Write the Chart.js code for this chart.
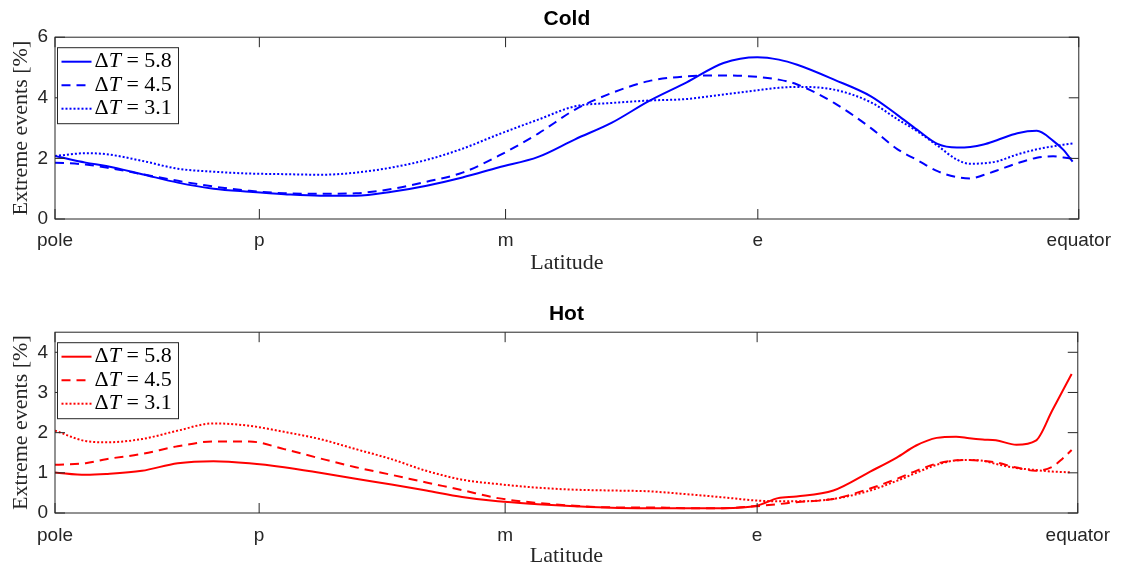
<!DOCTYPE html>
<html>
<head>
<meta charset="utf-8">
<script src="https://cdn.jsdelivr.net/npm/chart.js@4.4.1/dist/chart.umd.min.js"></script>
<style>
  html, body { margin: 0; padding: 0; background: #fff; }
  .panel { position: absolute; left: 0; width: 1121px; }
  #top { top: 0; height: 284px; }
  #bot { top: 284px; height: 285px; }
</style>
</head>
<body>
<div class="panel" id="top"><canvas id="cold"></canvas></div>
<div class="panel" id="bot"><canvas id="hot"></canvas></div>
<script>
// latitude axis runs 0 (pole) .. 100 (equator)
const lat = [0, 3, 5, 8.5, 12, 15.5, 19, 22.4, 25.9, 29.4, 32.9, 36.3, 39.8, 43.3,
  47.2, 50.8, 54.4, 58, 61.7, 65.3, 68.6, 70.7, 72.5, 76.1, 79.7, 82.3, 84.2, 86.2,
  88.1, 89.4, 90.7, 92, 94, 95.9, 97.5, 98.5, 99.4];
const tickPos = [0, 19.96, 44.01, 68.65, 100];
const tickLabels = ['pole', 'p', 'm', 'e', 'equator'];
const seriesLabels = ['\u0394T = 5.8', '\u0394T = 4.5', '\u0394T = 3.1'];

// Cold
const cold58 = [2.08, 1.86, 1.75, 1.48, 1.2, 1.0, 0.9, 0.82, 0.77, 0.77, 0.9, 1.1, 1.37, 1.7,
  2.05, 2.63, 3.18, 3.89, 4.51, 5.15, 5.34, 5.26, 5.09, 4.6, 4.05, 3.43, 2.95, 2.48,
  2.36, 2.38, 2.46, 2.6, 2.83, 2.91, 2.58, 2.28, 1.89];
const cold45 = [1.86, 1.8, 1.7, 1.48, 1.26, 1.07, 0.93, 0.85, 0.83, 0.85, 0.99, 1.23, 1.53, 2.08,
  2.82, 3.61, 4.16, 4.55, 4.71, 4.74, 4.69, 4.6, 4.44, 3.83, 3.0, 2.3, 1.95, 1.58,
  1.38, 1.34, 1.45, 1.6, 1.84, 2.02, 2.07, 2.03, 1.99];
const cold31 = [2.08, 2.17, 2.14, 1.92, 1.66, 1.56, 1.5, 1.48, 1.46, 1.53, 1.7, 1.95, 2.32, 2.79,
  3.28, 3.72, 3.83, 3.91, 3.96, 4.11, 4.25, 4.33, 4.36, 4.27, 3.85, 3.29, 2.9, 2.42,
  1.96, 1.82, 1.84, 1.9, 2.13, 2.3, 2.4, 2.45, 2.49];

// Hot
const hot58 = [1.01, 0.95, 0.97, 1.05, 1.24, 1.29, 1.24, 1.14, 1.0, 0.85, 0.71, 0.56, 0.4, 0.29,
  0.22, 0.17, 0.13, 0.12, 0.12, 0.12, 0.18, 0.37, 0.41, 0.56, 1.03, 1.38, 1.68, 1.87,
  1.9, 1.86, 1.83, 1.81, 1.7, 1.8, 2.55, 3.03, 3.46];
const hot45 = [1.2, 1.24, 1.34, 1.47, 1.66, 1.78, 1.78, 1.59, 1.36, 1.14, 0.95, 0.76, 0.57, 0.37,
  0.25, 0.18, 0.14, 0.14, 0.12, 0.12, 0.17, 0.22, 0.27, 0.35, 0.61, 0.85, 1.05, 1.23,
  1.31, 1.32, 1.3, 1.26, 1.13, 1.05, 1.15, 1.35, 1.57];
const hot31 = [2.05, 1.79, 1.76, 1.84, 2.05, 2.23, 2.17, 2.02, 1.84, 1.59, 1.34, 1.05, 0.83, 0.72,
  0.63, 0.58, 0.56, 0.54, 0.47, 0.39, 0.31, 0.29, 0.29, 0.35, 0.56, 0.8, 1.0, 1.2,
  1.31, 1.32, 1.3, 1.22, 1.12, 1.07, 1.03, 1.02, 1.01];

const axisColor = '#262626';
const dashes = [[], [9, 6], [2, 2]];

// MATLAB-style box with inward ticks
const boxPlugin = {
  id: 'matlabBox',
  afterDatasetsDraw(chart) {
    const { ctx, chartArea: a, scales: { x, y } } = chart;
    ctx.save();
    ctx.strokeStyle = axisColor;
    ctx.lineWidth = 1;
    ctx.beginPath();
    x.ticks.forEach(t => {
      const px = x.getPixelForValue(t.value);
      ctx.moveTo(px, a.bottom); ctx.lineTo(px, a.bottom - 10);
      ctx.moveTo(px, a.top); ctx.lineTo(px, a.top + 10);
    });
    y.ticks.forEach(t => {
      const py = y.getPixelForValue(t.value);
      ctx.moveTo(a.left, py); ctx.lineTo(a.left + 10, py);
      ctx.moveTo(a.right, py); ctx.lineTo(a.right - 10, py);
    });
    ctx.stroke();
    ctx.strokeRect(a.left, a.top, a.right - a.left, a.bottom - a.top);
    ctx.restore();
  }
};

// boxed legend in the upper left corner of the axes
const legendPlugin = {
  id: 'boxLegend',
  afterDraw(chart) {
    const { ctx, chartArea: a } = chart;
    const bx = a.left + 2.5, by = a.top + 10.5, bw = 121, bh = 76;
    ctx.save();
    ctx.fillStyle = '#fff';
    ctx.fillRect(bx, by, bw, bh);
    ctx.strokeStyle = axisColor;
    ctx.lineWidth = 1;
    ctx.strokeRect(bx, by, bw, bh);
    ctx.textBaseline = 'middle';
    chart.data.datasets.forEach((ds, i) => {
      const yy = by + 14 + i * 23.5;
      ctx.strokeStyle = ds.borderColor;
      ctx.lineWidth = ds.borderWidth;
      ctx.setLineDash(ds.borderDash);
      ctx.beginPath();
      ctx.moveTo(bx + 4, yy);
      ctx.lineTo(bx + 34, yy);
      ctx.stroke();
      ctx.setLineDash([]);
      // "ΔT = x" with an italic T
      const parts = ds.label.split('T');
      let tx = bx + 37;
      ctx.fillStyle = '#000';
      ctx.font = '22px "Liberation Serif"';
      ctx.fillText(parts[0], tx, yy);
      tx += ctx.measureText(parts[0]).width;
      ctx.font = 'italic 22px "Liberation Serif"';
      ctx.fillText('T', tx, yy);
      tx += ctx.measureText('T').width;
      ctx.font = '22px "Liberation Serif"';
      ctx.fillText(parts[1], tx, yy);
    });
    ctx.restore();
  }
};

function makeSeries(values, i, color) {
  return {
    label: seriesLabels[i],
    data: values.map((v, k) => ({ x: lat[k], y: v })),
    borderColor: color,
    borderWidth: 2,
    borderDash: dashes[i],
    pointRadius: 0,
    cubicInterpolationMode: 'monotone',
    fill: false
  };
}

function makePanel(id, title, series, color, yMax, yTicks, lay) {
  new Chart(document.getElementById(id), {
    type: 'line',
    data: { datasets: series.map((s, i) => makeSeries(s, i, color)) },
    options: {
      responsive: true,
      maintainAspectRatio: false,
      animation: false,
      layout: { padding: { left: 0, right: 39, top: 0, bottom: 0 } },
      plugins: {
        legend: { display: false },
        tooltip: { enabled: false },
        title: {
          display: true,
          text: title,
          fullSize: false,
          color: '#000',
          font: { family: 'Liberation Sans', size: 21, weight: 'bold' },
          padding: { top: lay.titleTop, bottom: 5 }
        }
      },
      scales: {
        x: {
          type: 'linear',
          min: 0,
          max: 100,
          afterBuildTicks: s => { s.ticks = tickPos.map(v => ({ value: v })); },
          afterFit: s => { s.height = lay.xHeight; },
          grid: { display: false, drawTicks: false },
          border: { display: false },
          ticks: {
            autoSkip: false,
            maxRotation: 0,
            padding: lay.xPad,
            color: axisColor,
            font: { family: 'Liberation Sans', size: 19 },
            callback: (v, i) => tickLabels[i]
          },
          title: {
            display: true,
            text: 'Latitude',
            color: axisColor,
            font: { family: 'Liberation Serif', size: 22 },
            padding: { top: 0, bottom: lay.xTitlePad }
          }
        },
        y: {
          min: 0,
          max: yMax,
          afterBuildTicks: s => { s.ticks = yTicks.map(v => ({ value: v })); },
          afterFit: s => { s.width = 55; },
          grid: { display: false, drawTicks: false },
          border: { display: false },
          ticks: {
            padding: 7,
            color: axisColor,
            font: { family: 'Liberation Sans', size: 19 }
          },
          title: {
            display: true,
            text: 'Extreme events [%]',
            color: axisColor,
            font: { family: 'Liberation Serif', size: 22 },
            padding: { top: 8, bottom: 0 }
          }
        }
      }
    },
    plugins: [boxPlugin, legendPlugin]
  });
}

makePanel('cold', 'Cold', [cold58, cold45, cold31], '#0000ff', 6, [0, 2, 4, 6],
  { titleTop: 7, xHeight: 65, xPad: 10, xTitlePad: 8 });
makePanel('hot', 'Hot', [hot58, hot45, hot31], '#ff0000', 4.5, [0, 1, 2, 3, 4],
  { titleTop: 18, xHeight: 56, xPad: 11, xTitlePad: 0 });
</script>
</body>
</html>
